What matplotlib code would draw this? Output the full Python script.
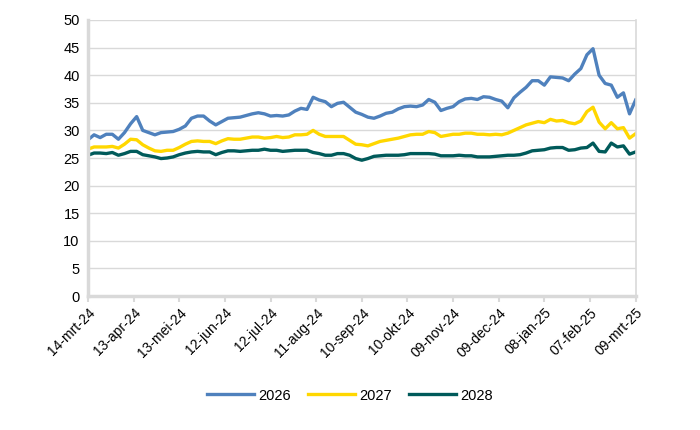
import matplotlib.pyplot as plt
import matplotlib.dates as mdates
import pandas as pd

start = "2024-03-14"
end = "2025-03-09"
step_days = 4

y2026 = [28.3, 29.2, 28.7, 29.3, 29.3, 28.4, 29.6, 31.2, 32.5, 30.0,
         29.6, 29.2, 29.6, 29.7, 29.8, 30.2, 30.8, 32.2, 32.6, 32.6,
         31.7, 31.0, 31.6, 32.2, 32.3, 32.4, 32.7, 33.0, 33.2, 33.0,
         32.6, 32.7, 32.6, 32.8, 33.5, 34.0, 33.8, 36.0, 35.5, 35.2,
         34.3, 34.9, 35.1, 34.2, 33.3, 32.9, 32.4, 32.2, 32.6, 33.1,
         33.3, 33.9, 34.3, 34.4, 34.3, 34.6, 35.6, 35.1, 33.6, 34.0,
         34.3, 35.2, 35.7, 35.8, 35.6, 36.1, 36.0, 35.6, 35.3, 34.1,
         35.9, 36.9, 37.8, 39.0, 39.0, 38.2, 39.7, 39.6, 39.5, 39.0,
         40.2, 41.2, 43.7, 44.8, 40.0, 38.5, 38.2, 36.0, 36.8, 33.0,
         35.5]
y2027 = [26.6, 27.0, 27.0, 27.0, 27.1, 26.8, 27.5, 28.4, 28.3, 27.4,
         26.8, 26.3, 26.2, 26.4, 26.4, 26.9, 27.5, 28.0, 28.1, 28.0,
         28.0, 27.6, 28.1, 28.5, 28.4, 28.4, 28.6, 28.8, 28.8, 28.6,
         28.7, 28.9, 28.7, 28.8, 29.2, 29.2, 29.3, 30.0, 29.3, 28.9,
         28.9, 28.9, 28.9, 28.2, 27.5, 27.4, 27.2, 27.6, 28.0, 28.2,
         28.4, 28.6, 28.9, 29.2, 29.3, 29.3, 29.8, 29.6, 28.9, 29.1,
         29.3, 29.3, 29.5, 29.5, 29.3, 29.3, 29.2, 29.3, 29.2, 29.5,
         30.0, 30.5, 31.0, 31.3, 31.6, 31.4, 32.0, 31.7, 31.8, 31.4,
         31.2, 31.7, 33.4, 34.2, 31.5, 30.3, 31.4, 30.3, 30.5, 28.6,
         29.4]
y2028 = [25.5, 25.9, 25.9, 25.8, 26.0, 25.5, 25.8, 26.2, 26.2, 25.6,
         25.4, 25.2, 24.9, 25.0, 25.2, 25.6, 25.9, 26.1, 26.2, 26.1,
         26.1, 25.6, 26.0, 26.3, 26.3, 26.2, 26.3, 26.4, 26.4, 26.6,
         26.4, 26.4, 26.2, 26.3, 26.4, 26.4, 26.4, 26.0, 25.8, 25.5,
         25.5, 25.8, 25.8, 25.5, 24.9, 24.6, 24.9, 25.3, 25.4, 25.5,
         25.5, 25.5, 25.6, 25.8, 25.8, 25.8, 25.8, 25.7, 25.4, 25.4,
         25.4, 25.5, 25.4, 25.4, 25.2, 25.2, 25.2, 25.3, 25.4, 25.5,
         25.5, 25.6, 25.9, 26.3, 26.4, 26.5, 26.8, 26.9, 26.9, 26.4,
         26.5, 26.8, 26.9, 27.7, 26.2, 26.1, 27.7, 27.0, 27.2, 25.7,
         26.1]

series = ["2026", "2027", "2028"]
colors = ["#4F81BD", "#FFD700", "#005A5A"]
months_nl = ["jan", "feb", "mrt", "apr", "mei", "jun", "jul", "aug", "sep", "okt", "nov", "dec"]

dates = pd.date_range(start, periods=len(y2026), freq=f"{step_days}D")
tick_dates = pd.date_range(start, end, freq="30D")

plt.rcParams['font.family'] = ['Liberation Sans', 'DejaVu Sans']
fig = plt.figure(figsize=(7, 4.3), dpi=100)
ax = fig.add_axes([0.1257, 0.3116, 0.7823, 0.6419])

for name, vals, c in zip(series, [y2026, y2027, y2028], colors):
    ax.plot(dates, vals, color=c, lw=2.4, label=name, solid_joinstyle="round")

ax.set_ylim(0, 50)
ax.set_yticks(range(0, 51, 5))
ax.set_xlim(pd.Timestamp(start), pd.Timestamp(end))
ax.set_xticks(tick_dates)
ax.set_xticklabels([f"{d.day:02d}-{months_nl[d.month - 1]}-{d.strftime('%y')}" for d in tick_dates],
                   rotation=45, ha="right", rotation_mode="anchor")
ax.grid(axis="y", color="#d9d9d9", lw=1)
ax.set_axisbelow(True)

for side in ["left", "bottom", "right"]:
    ax.spines[side].set_color("#d9d9d9")
ax.spines["left"].set_linewidth(2.5)
ax.spines["bottom"].set_linewidth(2.5)
ax.spines["right"].set_linewidth(1.2)
ax.spines["top"].set_visible(False)
ax.tick_params(axis="x", length=4, width=1.5, color="#d9d9d9", labelsize=10, pad=3)
ax.tick_params(axis="y", length=0, labelsize=10.5, pad=6)

fig.legend(loc="center", bbox_to_anchor=(0.5, 0.08), ncol=3, frameon=False,
           fontsize=10.5, handlelength=3.2, columnspacing=1.2, handletextpad=0.3)

fig.savefig("out.png", dpi=100)
